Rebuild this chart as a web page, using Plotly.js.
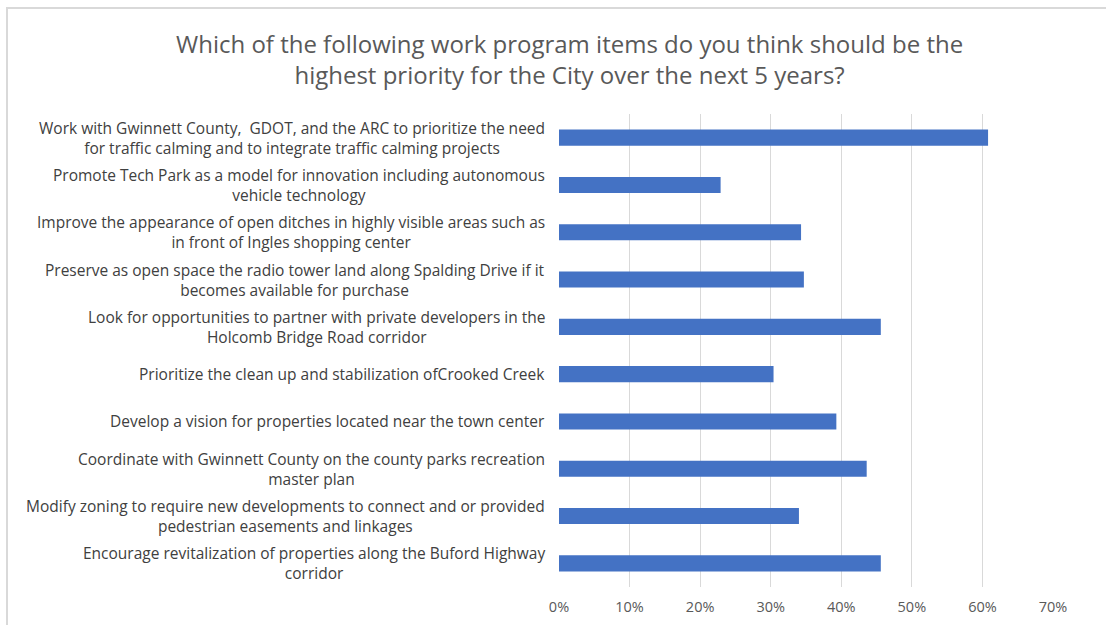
<!DOCTYPE html>
<html>
<head>
<meta charset="utf-8">
<script src="https://cdn.plot.ly/plotly-3.0.1.min.js"></script>
<style>
  html, body { margin: 0; padding: 0; background: #ffffff; }
  #chart { width: 1106px; height: 625px; position: absolute; left: 0; top: 0; }
  #frame { position: absolute; left: 6px; top: 7px; width: 1110px; height: 630px;
           border-left: 2px solid #d9d9d9; border-top: 2px solid #d9d9d9; pointer-events: none; }
</style>
</head>
<body>
<div id="chart"></div>
<div id="frame"></div>
<script>
const categories = [
  "Work with Gwinnett County,&nbsp; GDOT, and the ARC to prioritize the need<br>for traffic calming and to integrate traffic calming projects",
  "Promote Tech Park as a model for innovation including autonomous<br>vehicle technology",
  "Improve the appearance of open ditches in highly visible areas such as<br>in front of Ingles shopping center",
  "Preserve as open space the radio tower land along Spalding Drive if it<br>becomes available for purchase",
  "Look for opportunities to partner with private developers in the<br>Holcomb Bridge Road corridor",
  "Prioritize the clean up and stabilization ofCrooked Creek",
  "Develop a vision for properties located near the town center",
  "Coordinate with Gwinnett County on the county parks recreation<br>master plan",
  "Modify zoning to require new developments to connect and or provided<br>pedestrian easements and linkages",
  "Encourage revitalization of properties along the Buford Highway<br>corridor"
];
const values = [0.608, 0.229, 0.343, 0.347, 0.456, 0.304, 0.393, 0.436, 0.340, 0.456];
const tickVals = [0, 0.1, 0.2, 0.3, 0.4, 0.5, 0.6, 0.7];
const tickText = ["0%", "10%", "20%", "30%", "40%", "50%", "60%", "70%"];
const titleText = "Which of the following work program items do you think should be the<br>highest priority for the City over the next 5 years?";

const FONT = "'Open Sans', 'Noto Sans', 'DejaVu Sans', sans-serif";

const trace = {
  type: 'bar',
  orientation: 'h',
  x: values,
  y: categories,
  marker: { color: '#4472C4' },
  hoverinfo: 'x+y'
};

const annotations = categories.map(c => ({
  xref: 'paper', yref: 'y',
  x: 0, y: c,
  xanchor: 'right', yanchor: 'middle',
  xshift: -12,
  align: 'center',
  showarrow: false,
  text: c,
  font: { family: FONT, size: 15.5, color: '#404040' }
}));

const layout = {
  width: 1106, height: 625,
  margin: { l: 559, r: 53, t: 114, b: 38 },
  paper_bgcolor: '#ffffff',
  plot_bgcolor: '#ffffff',
  showlegend: false,
  bargap: 0.66,
  title: {
    text: titleText,
    font: { family: FONT, size: 24, color: '#595959' },
    x: 0.515, xanchor: 'center',
    y: 0.915, yanchor: 'middle',
    xref: 'container', yref: 'container'
  },
  xaxis: {
    range: [0, 0.7],
    tickvals: tickVals,
    ticktext: tickText,
    showgrid: true,
    gridcolor: '#d9d9d9',
    gridwidth: 1,
    zeroline: false,
    showline: false,
    ticks: '',
    ticklabelstandoff: 9,
    tickfont: { family: FONT, size: 14.5, color: '#595959' },
    fixedrange: true
  },
  yaxis: {
    type: 'category',
    categoryorder: 'array',
    categoryarray: categories,
    autorange: 'reversed',
    showticklabels: false,
    showgrid: false,
    zeroline: false,
    ticks: '',
    fixedrange: true
  },
  annotations: annotations
};

Plotly.newPlot('chart', [trace], layout, { displayModeBar: false, staticPlot: true });
</script>
</body>
</html>
